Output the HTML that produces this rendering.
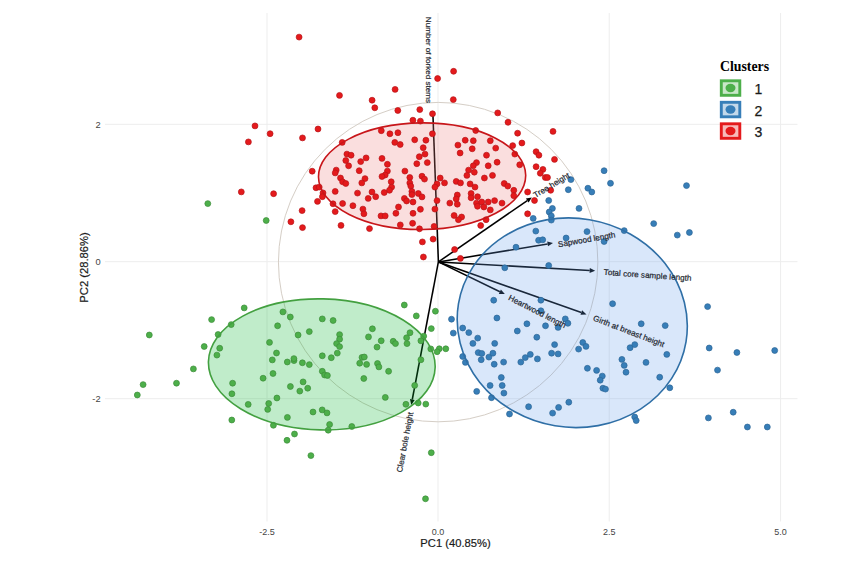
<!DOCTYPE html><html><head><meta charset="utf-8"><style>html,body{margin:0;padding:0;background:#fff;}svg{display:block;}text{font-family:"Liberation Sans",sans-serif;}</style></head><body>
<svg width="868" height="563" viewBox="0 0 868 563">
<rect width="868" height="563" fill="#fff"/>
<g stroke="#EDEDED" stroke-width="1"><line x1="267.0" y1="13" x2="267.0" y2="521.5"/><line x1="438.0" y1="13" x2="438.0" y2="521.5"/><line x1="609.2" y1="13" x2="609.2" y2="521.5"/><line x1="780.6" y1="13" x2="780.6" y2="521.5"/><line x1="105" y1="124.3" x2="797.5" y2="124.3"/><line x1="105" y1="261.7" x2="797.5" y2="261.7"/><line x1="105" y1="398.7" x2="797.5" y2="398.7"/></g>
<g fill="#444" font-size="9.3">
<text x="100.6" y="127.89999999999999" text-anchor="end">2</text>
<text x="100.6" y="265.3" text-anchor="end">0</text>
<text x="100.6" y="402.3" text-anchor="end">-2</text>
<text x="267.0" y="534.6" font-size="9" text-anchor="middle">-2.5</text>
<text x="438.0" y="534.6" font-size="9" text-anchor="middle">0.0</text>
<text x="609.2" y="534.6" font-size="9" text-anchor="middle">2.5</text>
<text x="780.6" y="534.6" font-size="9" text-anchor="middle">5.0</text>
</g>
<text x="455.5" y="547.2" font-size="11.2" text-anchor="middle" fill="#1a1a1a" stroke="#1a1a1a" stroke-width="0.2">PC1 (40.85%)</text>
<text transform="translate(87.6,267.5) rotate(-90)" font-size="11.2" text-anchor="middle" fill="#1a1a1a" stroke="#1a1a1a" stroke-width="0.2">PC2 (28.86%)</text>
<circle cx="438.15" cy="262.1" r="159.7" fill="none" stroke="#D5CEC6" stroke-width="1"/>
<g stroke="#000" stroke-width="1.55" fill="#000"><line x1="438.4" y1="261.9" x2="432.9" y2="114.0"/><line x1="438.4" y1="261.9" x2="527.3" y2="200.6"/><polygon stroke="none" points="531.8,197.5 528.6,202.6 525.9,198.6"/><line x1="438.4" y1="261.9" x2="547.6" y2="243.9"/><polygon stroke="none" points="553.0,243.0 548.0,246.3 547.2,241.5"/><line x1="438.4" y1="261.9" x2="589.7" y2="270.5"/><polygon stroke="none" points="595.2,270.8 589.6,272.9 589.8,268.1"/><line x1="438.4" y1="261.9" x2="499.9" y2="291.7"/><polygon stroke="none" points="504.8,294.1 498.8,293.9 500.9,289.5"/><line x1="438.4" y1="261.9" x2="581.3" y2="312.6"/><polygon stroke="none" points="586.5,314.4 580.5,314.8 582.1,310.3"/><line x1="438.4" y1="261.9" x2="412.3" y2="399.5"/><polygon stroke="none" points="411.3,404.9 410.0,399.0 414.7,399.9"/></g>
<ellipse cx="321.8" cy="364.4" rx="113.4" ry="65.5" transform="rotate(1.4 321.8 364.4)" fill="rgb(3,179,43)" fill-opacity="0.25"/><ellipse cx="572.25" cy="322.75" rx="115.35" ry="104.5" transform="rotate(9.5 572.25 322.75)" fill="rgb(103,159,235)" fill-opacity="0.25"/><ellipse cx="422.1" cy="176.2" rx="103.6" ry="53.3" transform="rotate(-0.46 422.1 176.2)" fill="rgb(235,123,123)" fill-opacity="0.25"/>
<g stroke-width="0.7"><circle cx="299.1" cy="37.1" r="2.95" fill="#E41A1C" stroke="#B81418"/><circle cx="255.0" cy="125.9" r="2.95" fill="#E41A1C" stroke="#B81418"/><circle cx="270.1" cy="133.7" r="2.95" fill="#E41A1C" stroke="#B81418"/><circle cx="248.4" cy="141.9" r="2.95" fill="#E41A1C" stroke="#B81418"/><circle cx="302.5" cy="137.9" r="2.95" fill="#E41A1C" stroke="#B81418"/><circle cx="318.0" cy="129.0" r="2.95" fill="#E41A1C" stroke="#B81418"/><circle cx="312.2" cy="171.2" r="2.95" fill="#E41A1C" stroke="#B81418"/><circle cx="453.6" cy="71.3" r="2.95" fill="#E41A1C" stroke="#B81418"/><circle cx="437.6" cy="78.5" r="2.95" fill="#E41A1C" stroke="#B81418"/><circle cx="339.5" cy="95.4" r="2.95" fill="#E41A1C" stroke="#B81418"/><circle cx="395.1" cy="89.4" r="2.95" fill="#E41A1C" stroke="#B81418"/><circle cx="372.1" cy="100.2" r="2.95" fill="#E41A1C" stroke="#B81418"/><circle cx="374.8" cy="107.8" r="2.95" fill="#E41A1C" stroke="#B81418"/><circle cx="453.3" cy="99.6" r="2.95" fill="#E41A1C" stroke="#B81418"/><circle cx="397.8" cy="110.5" r="2.95" fill="#E41A1C" stroke="#B81418"/><circle cx="419.8" cy="109.6" r="2.95" fill="#E41A1C" stroke="#B81418"/><circle cx="432.5" cy="113.8" r="2.95" fill="#E41A1C" stroke="#B81418"/><circle cx="497.7" cy="112.9" r="2.95" fill="#E41A1C" stroke="#B81418"/><circle cx="508.0" cy="122.3" r="2.95" fill="#E41A1C" stroke="#B81418"/><circle cx="412.9" cy="120.2" r="2.95" fill="#E41A1C" stroke="#B81418"/><circle cx="420.4" cy="121.1" r="2.95" fill="#E41A1C" stroke="#B81418"/><circle cx="553.0" cy="131.4" r="2.95" fill="#E41A1C" stroke="#B81418"/><circle cx="517.6" cy="133.2" r="2.95" fill="#E41A1C" stroke="#B81418"/><circle cx="475.7" cy="130.5" r="2.95" fill="#E41A1C" stroke="#B81418"/><circle cx="381.3" cy="130.7" r="2.95" fill="#E41A1C" stroke="#B81418"/><circle cx="389.9" cy="133.8" r="2.95" fill="#E41A1C" stroke="#B81418"/><circle cx="397.9" cy="132.7" r="2.95" fill="#E41A1C" stroke="#B81418"/><circle cx="432.4" cy="133.8" r="2.95" fill="#E41A1C" stroke="#B81418"/><circle cx="414.7" cy="139.8" r="2.95" fill="#E41A1C" stroke="#B81418"/><circle cx="425.9" cy="140.2" r="2.95" fill="#E41A1C" stroke="#B81418"/><circle cx="342.2" cy="142.4" r="2.95" fill="#E41A1C" stroke="#B81418"/><circle cx="394.8" cy="142.4" r="2.95" fill="#E41A1C" stroke="#B81418"/><circle cx="400.2" cy="144.5" r="2.95" fill="#E41A1C" stroke="#B81418"/><circle cx="423.2" cy="147.7" r="2.95" fill="#E41A1C" stroke="#B81418"/><circle cx="346.9" cy="154.1" r="2.95" fill="#E41A1C" stroke="#B81418"/><circle cx="351.1" cy="155.2" r="2.95" fill="#E41A1C" stroke="#B81418"/><circle cx="425.0" cy="154.1" r="2.95" fill="#E41A1C" stroke="#B81418"/><circle cx="419.3" cy="156.7" r="2.95" fill="#E41A1C" stroke="#B81418"/><circle cx="366.1" cy="157.9" r="2.95" fill="#E41A1C" stroke="#B81418"/><circle cx="382.0" cy="158.4" r="2.95" fill="#E41A1C" stroke="#B81418"/><circle cx="360.7" cy="161.6" r="2.95" fill="#E41A1C" stroke="#B81418"/><circle cx="345.8" cy="160.5" r="2.95" fill="#E41A1C" stroke="#B81418"/><circle cx="348.6" cy="165.8" r="2.95" fill="#E41A1C" stroke="#B81418"/><circle cx="387.4" cy="164.3" r="2.95" fill="#E41A1C" stroke="#B81418"/><circle cx="416.8" cy="163.7" r="2.95" fill="#E41A1C" stroke="#B81418"/><circle cx="427.3" cy="162.6" r="2.95" fill="#E41A1C" stroke="#B81418"/><circle cx="336.2" cy="170.1" r="2.95" fill="#E41A1C" stroke="#B81418"/><circle cx="335.2" cy="172.9" r="2.95" fill="#E41A1C" stroke="#B81418"/><circle cx="359.2" cy="170.7" r="2.95" fill="#E41A1C" stroke="#B81418"/><circle cx="387.4" cy="171.1" r="2.95" fill="#E41A1C" stroke="#B81418"/><circle cx="385.2" cy="175.0" r="2.95" fill="#E41A1C" stroke="#B81418"/><circle cx="382.0" cy="176.5" r="2.95" fill="#E41A1C" stroke="#B81418"/><circle cx="404.9" cy="171.1" r="2.95" fill="#E41A1C" stroke="#B81418"/><circle cx="409.8" cy="177.5" r="2.95" fill="#E41A1C" stroke="#B81418"/><circle cx="422.0" cy="176.2" r="2.95" fill="#E41A1C" stroke="#B81418"/><circle cx="424.5" cy="179.1" r="2.95" fill="#E41A1C" stroke="#B81418"/><circle cx="340.5" cy="178.0" r="2.95" fill="#E41A1C" stroke="#B81418"/><circle cx="365.0" cy="178.6" r="2.95" fill="#E41A1C" stroke="#B81418"/><circle cx="361.8" cy="182.9" r="2.95" fill="#E41A1C" stroke="#B81418"/><circle cx="342.6" cy="181.8" r="2.95" fill="#E41A1C" stroke="#B81418"/><circle cx="345.8" cy="183.5" r="2.95" fill="#E41A1C" stroke="#B81418"/><circle cx="391.2" cy="181.8" r="2.95" fill="#E41A1C" stroke="#B81418"/><circle cx="409.8" cy="182.9" r="2.95" fill="#E41A1C" stroke="#B81418"/><circle cx="410.8" cy="186.1" r="2.95" fill="#E41A1C" stroke="#B81418"/><circle cx="316.0" cy="187.8" r="2.95" fill="#E41A1C" stroke="#B81418"/><circle cx="319.2" cy="187.1" r="2.95" fill="#E41A1C" stroke="#B81418"/><circle cx="335.2" cy="191.4" r="2.95" fill="#E41A1C" stroke="#B81418"/><circle cx="357.5" cy="193.1" r="2.95" fill="#E41A1C" stroke="#B81418"/><circle cx="372.0" cy="192.0" r="2.95" fill="#E41A1C" stroke="#B81418"/><circle cx="391.6" cy="187.1" r="2.95" fill="#E41A1C" stroke="#B81418"/><circle cx="389.5" cy="190.3" r="2.95" fill="#E41A1C" stroke="#B81418"/><circle cx="384.2" cy="192.5" r="2.95" fill="#E41A1C" stroke="#B81418"/><circle cx="411.9" cy="191.4" r="2.95" fill="#E41A1C" stroke="#B81418"/><circle cx="411.9" cy="194.6" r="2.95" fill="#E41A1C" stroke="#B81418"/><circle cx="418.3" cy="193.5" r="2.95" fill="#E41A1C" stroke="#B81418"/><circle cx="422.0" cy="196.9" r="2.95" fill="#E41A1C" stroke="#B81418"/><circle cx="323.0" cy="192.9" r="2.95" fill="#E41A1C" stroke="#B81418"/><circle cx="322.4" cy="196.7" r="2.95" fill="#E41A1C" stroke="#B81418"/><circle cx="368.2" cy="198.4" r="2.95" fill="#E41A1C" stroke="#B81418"/><circle cx="375.7" cy="196.7" r="2.95" fill="#E41A1C" stroke="#B81418"/><circle cx="404.4" cy="198.4" r="2.95" fill="#E41A1C" stroke="#B81418"/><circle cx="406.6" cy="201.0" r="2.95" fill="#E41A1C" stroke="#B81418"/><circle cx="413.0" cy="202.0" r="2.95" fill="#E41A1C" stroke="#B81418"/><circle cx="317.5" cy="201.4" r="2.95" fill="#E41A1C" stroke="#B81418"/><circle cx="333.0" cy="203.8" r="2.95" fill="#E41A1C" stroke="#B81418"/><circle cx="342.6" cy="203.5" r="2.95" fill="#E41A1C" stroke="#B81418"/><circle cx="352.9" cy="205.7" r="2.95" fill="#E41A1C" stroke="#B81418"/><circle cx="362.9" cy="209.1" r="2.95" fill="#E41A1C" stroke="#B81418"/><circle cx="363.9" cy="213.8" r="2.95" fill="#E41A1C" stroke="#B81418"/><circle cx="398.5" cy="207.0" r="2.95" fill="#E41A1C" stroke="#B81418"/><circle cx="420.4" cy="209.3" r="2.95" fill="#E41A1C" stroke="#B81418"/><circle cx="302.1" cy="210.6" r="2.95" fill="#E41A1C" stroke="#B81418"/><circle cx="335.2" cy="211.6" r="2.95" fill="#E41A1C" stroke="#B81418"/><circle cx="381.0" cy="215.9" r="2.95" fill="#E41A1C" stroke="#B81418"/><circle cx="385.2" cy="215.9" r="2.95" fill="#E41A1C" stroke="#B81418"/><circle cx="395.9" cy="213.3" r="2.95" fill="#E41A1C" stroke="#B81418"/><circle cx="413.0" cy="213.3" r="2.95" fill="#E41A1C" stroke="#B81418"/><circle cx="400.3" cy="224.9" r="2.95" fill="#E41A1C" stroke="#B81418"/><circle cx="412.6" cy="223.3" r="2.95" fill="#E41A1C" stroke="#B81418"/><circle cx="419.5" cy="228.8" r="2.95" fill="#E41A1C" stroke="#B81418"/><circle cx="341.0" cy="225.4" r="2.95" fill="#E41A1C" stroke="#B81418"/><circle cx="369.5" cy="228.6" r="2.95" fill="#E41A1C" stroke="#B81418"/><circle cx="302.5" cy="227.6" r="2.95" fill="#E41A1C" stroke="#B81418"/><circle cx="521.9" cy="143.0" r="2.95" fill="#E41A1C" stroke="#B81418"/><circle cx="512.7" cy="145.6" r="2.95" fill="#E41A1C" stroke="#B81418"/><circle cx="465.2" cy="140.2" r="2.95" fill="#E41A1C" stroke="#B81418"/><circle cx="473.3" cy="140.7" r="2.95" fill="#E41A1C" stroke="#B81418"/><circle cx="490.3" cy="140.7" r="2.95" fill="#E41A1C" stroke="#B81418"/><circle cx="457.9" cy="145.1" r="2.95" fill="#E41A1C" stroke="#B81418"/><circle cx="472.2" cy="148.8" r="2.95" fill="#E41A1C" stroke="#B81418"/><circle cx="495.7" cy="148.1" r="2.95" fill="#E41A1C" stroke="#B81418"/><circle cx="460.1" cy="153.0" r="2.95" fill="#E41A1C" stroke="#B81418"/><circle cx="486.5" cy="155.2" r="2.95" fill="#E41A1C" stroke="#B81418"/><circle cx="514.8" cy="154.1" r="2.95" fill="#E41A1C" stroke="#B81418"/><circle cx="536.1" cy="151.7" r="2.95" fill="#E41A1C" stroke="#B81418"/><circle cx="538.9" cy="155.2" r="2.95" fill="#E41A1C" stroke="#B81418"/><circle cx="476.5" cy="162.6" r="2.95" fill="#E41A1C" stroke="#B81418"/><circle cx="473.3" cy="165.8" r="2.95" fill="#E41A1C" stroke="#B81418"/><circle cx="497.1" cy="162.2" r="2.95" fill="#E41A1C" stroke="#B81418"/><circle cx="488.2" cy="165.8" r="2.95" fill="#E41A1C" stroke="#B81418"/><circle cx="519.7" cy="164.8" r="2.95" fill="#E41A1C" stroke="#B81418"/><circle cx="536.1" cy="166.7" r="2.95" fill="#E41A1C" stroke="#B81418"/><circle cx="542.9" cy="169.4" r="2.95" fill="#E41A1C" stroke="#B81418"/><circle cx="540.3" cy="173.3" r="2.95" fill="#E41A1C" stroke="#B81418"/><circle cx="545.3" cy="177.5" r="2.95" fill="#E41A1C" stroke="#B81418"/><circle cx="468.6" cy="170.1" r="2.95" fill="#E41A1C" stroke="#B81418"/><circle cx="474.3" cy="172.2" r="2.95" fill="#E41A1C" stroke="#B81418"/><circle cx="466.9" cy="175.4" r="2.95" fill="#E41A1C" stroke="#B81418"/><circle cx="492.5" cy="175.4" r="2.95" fill="#E41A1C" stroke="#B81418"/><circle cx="484.4" cy="178.0" r="2.95" fill="#E41A1C" stroke="#B81418"/><circle cx="440.2" cy="178.0" r="2.95" fill="#E41A1C" stroke="#B81418"/><circle cx="444.5" cy="182.9" r="2.95" fill="#E41A1C" stroke="#B81418"/><circle cx="456.2" cy="181.4" r="2.95" fill="#E41A1C" stroke="#B81418"/><circle cx="460.5" cy="182.9" r="2.95" fill="#E41A1C" stroke="#B81418"/><circle cx="437.0" cy="183.9" r="2.95" fill="#E41A1C" stroke="#B81418"/><circle cx="434.9" cy="187.1" r="2.95" fill="#E41A1C" stroke="#B81418"/><circle cx="470.1" cy="183.9" r="2.95" fill="#E41A1C" stroke="#B81418"/><circle cx="475.0" cy="187.1" r="2.95" fill="#E41A1C" stroke="#B81418"/><circle cx="504.2" cy="183.5" r="2.95" fill="#E41A1C" stroke="#B81418"/><circle cx="507.8" cy="186.1" r="2.95" fill="#E41A1C" stroke="#B81418"/><circle cx="513.8" cy="190.3" r="2.95" fill="#E41A1C" stroke="#B81418"/><circle cx="513.8" cy="195.7" r="2.95" fill="#E41A1C" stroke="#B81418"/><circle cx="527.6" cy="192.0" r="2.95" fill="#E41A1C" stroke="#B81418"/><circle cx="471.1" cy="193.5" r="2.95" fill="#E41A1C" stroke="#B81418"/><circle cx="477.5" cy="196.7" r="2.95" fill="#E41A1C" stroke="#B81418"/><circle cx="457.3" cy="195.0" r="2.95" fill="#E41A1C" stroke="#B81418"/><circle cx="456.2" cy="198.9" r="2.95" fill="#E41A1C" stroke="#B81418"/><circle cx="437.0" cy="200.6" r="2.95" fill="#E41A1C" stroke="#B81418"/><circle cx="449.8" cy="203.1" r="2.95" fill="#E41A1C" stroke="#B81418"/><circle cx="457.3" cy="204.2" r="2.95" fill="#E41A1C" stroke="#B81418"/><circle cx="471.1" cy="197.8" r="2.95" fill="#E41A1C" stroke="#B81418"/><circle cx="476.5" cy="203.1" r="2.95" fill="#E41A1C" stroke="#B81418"/><circle cx="481.8" cy="202.0" r="2.95" fill="#E41A1C" stroke="#B81418"/><circle cx="488.2" cy="202.0" r="2.95" fill="#E41A1C" stroke="#B81418"/><circle cx="494.6" cy="200.6" r="2.95" fill="#E41A1C" stroke="#B81418"/><circle cx="502.0" cy="203.1" r="2.95" fill="#E41A1C" stroke="#B81418"/><circle cx="483.9" cy="207.0" r="2.95" fill="#E41A1C" stroke="#B81418"/><circle cx="477.5" cy="206.3" r="2.95" fill="#E41A1C" stroke="#B81418"/><circle cx="490.3" cy="209.9" r="2.95" fill="#E41A1C" stroke="#B81418"/><circle cx="534.5" cy="200.5" r="2.95" fill="#E41A1C" stroke="#B81418"/><circle cx="434.9" cy="209.1" r="2.95" fill="#E41A1C" stroke="#B81418"/><circle cx="454.1" cy="215.5" r="2.95" fill="#E41A1C" stroke="#B81418"/><circle cx="461.6" cy="217.0" r="2.95" fill="#E41A1C" stroke="#B81418"/><circle cx="458.4" cy="219.7" r="2.95" fill="#E41A1C" stroke="#B81418"/><circle cx="486.1" cy="219.7" r="2.95" fill="#E41A1C" stroke="#B81418"/><circle cx="480.7" cy="225.5" r="2.95" fill="#E41A1C" stroke="#B81418"/><circle cx="527.6" cy="213.8" r="2.95" fill="#E41A1C" stroke="#B81418"/><circle cx="434.1" cy="226.4" r="2.95" fill="#E41A1C" stroke="#B81418"/><circle cx="433.1" cy="239.1" r="2.95" fill="#E41A1C" stroke="#B81418"/><circle cx="554.5" cy="159.4" r="2.95" fill="#E41A1C" stroke="#B81418"/><circle cx="547.5" cy="177.5" r="2.95" fill="#E41A1C" stroke="#B81418"/><circle cx="550.7" cy="190.3" r="2.95" fill="#E41A1C" stroke="#B81418"/><circle cx="604.1" cy="170.7" r="2.95" fill="#377EB8" stroke="#2C6596"/><circle cx="610.5" cy="183.3" r="2.95" fill="#377EB8" stroke="#2C6596"/><circle cx="570.9" cy="179.6" r="2.95" fill="#377EB8" stroke="#2C6596"/><circle cx="568.3" cy="189.7" r="2.95" fill="#377EB8" stroke="#2C6596"/><circle cx="587.9" cy="188.2" r="2.95" fill="#377EB8" stroke="#2C6596"/><circle cx="591.8" cy="192.0" r="2.95" fill="#377EB8" stroke="#2C6596"/><circle cx="686.5" cy="185.6" r="2.95" fill="#377EB8" stroke="#2C6596"/><circle cx="548.7" cy="200.5" r="2.95" fill="#377EB8" stroke="#2C6596"/><circle cx="552.4" cy="208.4" r="2.95" fill="#377EB8" stroke="#2C6596"/><circle cx="549.2" cy="212.0" r="2.95" fill="#377EB8" stroke="#2C6596"/><circle cx="579.0" cy="208.4" r="2.95" fill="#377EB8" stroke="#2C6596"/><circle cx="551.3" cy="215.9" r="2.95" fill="#377EB8" stroke="#2C6596"/><circle cx="551.3" cy="220.1" r="2.95" fill="#377EB8" stroke="#2C6596"/><circle cx="533.2" cy="218.4" r="2.95" fill="#377EB8" stroke="#2C6596"/><circle cx="653.7" cy="223.6" r="2.95" fill="#377EB8" stroke="#2C6596"/><circle cx="535.8" cy="231.1" r="2.95" fill="#377EB8" stroke="#2C6596"/><circle cx="587.0" cy="231.6" r="2.95" fill="#377EB8" stroke="#2C6596"/><circle cx="624.2" cy="230.6" r="2.95" fill="#377EB8" stroke="#2C6596"/><circle cx="677.3" cy="235.1" r="2.95" fill="#377EB8" stroke="#2C6596"/><circle cx="689.4" cy="232.5" r="2.95" fill="#377EB8" stroke="#2C6596"/><circle cx="538.6" cy="240.3" r="2.95" fill="#377EB8" stroke="#2C6596"/><circle cx="542.7" cy="239.8" r="2.95" fill="#377EB8" stroke="#2C6596"/><circle cx="566.1" cy="238.0" r="2.95" fill="#377EB8" stroke="#2C6596"/><circle cx="516.0" cy="247.2" r="2.95" fill="#377EB8" stroke="#2C6596"/><circle cx="504.8" cy="267.8" r="2.95" fill="#377EB8" stroke="#2C6596"/><circle cx="548.7" cy="265.5" r="2.95" fill="#377EB8" stroke="#2C6596"/><circle cx="493.7" cy="300.2" r="2.95" fill="#377EB8" stroke="#2C6596"/><circle cx="540.9" cy="300.2" r="2.95" fill="#377EB8" stroke="#2C6596"/><circle cx="540.9" cy="310.8" r="2.95" fill="#377EB8" stroke="#2C6596"/><circle cx="451.5" cy="319.2" r="2.95" fill="#377EB8" stroke="#2C6596"/><circle cx="496.9" cy="318.0" r="2.95" fill="#377EB8" stroke="#2C6596"/><circle cx="526.9" cy="323.8" r="2.95" fill="#377EB8" stroke="#2C6596"/><circle cx="545.5" cy="325.8" r="2.95" fill="#377EB8" stroke="#2C6596"/><circle cx="565.3" cy="318.9" r="2.95" fill="#377EB8" stroke="#2C6596"/><circle cx="567.9" cy="323.3" r="2.95" fill="#377EB8" stroke="#2C6596"/><circle cx="462.7" cy="328.0" r="2.95" fill="#377EB8" stroke="#2C6596"/><circle cx="558.1" cy="327.4" r="2.95" fill="#377EB8" stroke="#2C6596"/><circle cx="454.6" cy="249.5" r="2.95" fill="#E41A1C" stroke="#B81418"/><circle cx="460.4" cy="258.4" r="2.95" fill="#E41A1C" stroke="#B81418"/><circle cx="604.1" cy="241.5" r="2.95" fill="#377EB8" stroke="#2C6596"/><circle cx="612.6" cy="303.7" r="2.95" fill="#377EB8" stroke="#2C6596"/><circle cx="707.6" cy="306.6" r="2.95" fill="#377EB8" stroke="#2C6596"/><circle cx="641.2" cy="323.8" r="2.95" fill="#377EB8" stroke="#2C6596"/><circle cx="665.2" cy="325.6" r="2.95" fill="#377EB8" stroke="#2C6596"/><circle cx="453.3" cy="333.1" r="2.95" fill="#377EB8" stroke="#2C6596"/><circle cx="468.8" cy="332.6" r="2.95" fill="#377EB8" stroke="#2C6596"/><circle cx="477.7" cy="338.1" r="2.95" fill="#377EB8" stroke="#2C6596"/><circle cx="472.9" cy="343.4" r="2.95" fill="#377EB8" stroke="#2C6596"/><circle cx="494.7" cy="343.4" r="2.95" fill="#377EB8" stroke="#2C6596"/><circle cx="517.3" cy="331.0" r="2.95" fill="#377EB8" stroke="#2C6596"/><circle cx="536.8" cy="337.2" r="2.95" fill="#377EB8" stroke="#2C6596"/><circle cx="554.6" cy="344.6" r="2.95" fill="#377EB8" stroke="#2C6596"/><circle cx="551.6" cy="353.2" r="2.95" fill="#377EB8" stroke="#2C6596"/><circle cx="558.1" cy="353.9" r="2.95" fill="#377EB8" stroke="#2C6596"/><circle cx="578.6" cy="349.1" r="2.95" fill="#377EB8" stroke="#2C6596"/><circle cx="478.2" cy="352.6" r="2.95" fill="#377EB8" stroke="#2C6596"/><circle cx="481.8" cy="353.5" r="2.95" fill="#377EB8" stroke="#2C6596"/><circle cx="481.2" cy="359.7" r="2.95" fill="#377EB8" stroke="#2C6596"/><circle cx="488.9" cy="357.1" r="2.95" fill="#377EB8" stroke="#2C6596"/><circle cx="492.9" cy="353.2" r="2.95" fill="#377EB8" stroke="#2C6596"/><circle cx="494.2" cy="364.2" r="2.95" fill="#377EB8" stroke="#2C6596"/><circle cx="503.6" cy="362.1" r="2.95" fill="#377EB8" stroke="#2C6596"/><circle cx="520.8" cy="362.1" r="2.95" fill="#377EB8" stroke="#2C6596"/><circle cx="525.3" cy="357.6" r="2.95" fill="#377EB8" stroke="#2C6596"/><circle cx="530.3" cy="354.4" r="2.95" fill="#377EB8" stroke="#2C6596"/><circle cx="537.4" cy="358.9" r="2.95" fill="#377EB8" stroke="#2C6596"/><circle cx="462.7" cy="356.5" r="2.95" fill="#377EB8" stroke="#2C6596"/><circle cx="465.4" cy="362.4" r="2.95" fill="#377EB8" stroke="#2C6596"/><circle cx="501.3" cy="377.5" r="2.95" fill="#377EB8" stroke="#2C6596"/><circle cx="502.2" cy="385.5" r="2.95" fill="#377EB8" stroke="#2C6596"/><circle cx="490.1" cy="385.5" r="2.95" fill="#377EB8" stroke="#2C6596"/><circle cx="503.9" cy="393.1" r="2.95" fill="#377EB8" stroke="#2C6596"/><circle cx="476.7" cy="391.4" r="2.95" fill="#377EB8" stroke="#2C6596"/><circle cx="491.5" cy="397.7" r="2.95" fill="#377EB8" stroke="#2C6596"/><circle cx="528.6" cy="406.7" r="2.95" fill="#377EB8" stroke="#2C6596"/><circle cx="558.6" cy="407.4" r="2.95" fill="#377EB8" stroke="#2C6596"/><circle cx="568.8" cy="402.2" r="2.95" fill="#377EB8" stroke="#2C6596"/><circle cx="439.3" cy="348.8" r="2.95" fill="#4DAF4A" stroke="#3C8C3A"/><circle cx="445.8" cy="348.8" r="2.95" fill="#4DAF4A" stroke="#3C8C3A"/><circle cx="582.8" cy="342.5" r="2.95" fill="#377EB8" stroke="#2C6596"/><circle cx="586.0" cy="346.4" r="2.95" fill="#377EB8" stroke="#2C6596"/><circle cx="630.1" cy="347.7" r="2.95" fill="#377EB8" stroke="#2C6596"/><circle cx="634.8" cy="344.6" r="2.95" fill="#377EB8" stroke="#2C6596"/><circle cx="666.8" cy="354.4" r="2.95" fill="#377EB8" stroke="#2C6596"/><circle cx="646.0" cy="362.4" r="2.95" fill="#377EB8" stroke="#2C6596"/><circle cx="621.9" cy="359.4" r="2.95" fill="#377EB8" stroke="#2C6596"/><circle cx="624.2" cy="365.4" r="2.95" fill="#377EB8" stroke="#2C6596"/><circle cx="626.0" cy="372.2" r="2.95" fill="#377EB8" stroke="#2C6596"/><circle cx="587.4" cy="368.3" r="2.95" fill="#377EB8" stroke="#2C6596"/><circle cx="596.6" cy="370.4" r="2.95" fill="#377EB8" stroke="#2C6596"/><circle cx="602.3" cy="376.1" r="2.95" fill="#377EB8" stroke="#2C6596"/><circle cx="600.2" cy="380.2" r="2.95" fill="#377EB8" stroke="#2C6596"/><circle cx="602.9" cy="388.2" r="2.95" fill="#377EB8" stroke="#2C6596"/><circle cx="605.5" cy="389.1" r="2.95" fill="#377EB8" stroke="#2C6596"/><circle cx="659.7" cy="377.2" r="2.95" fill="#377EB8" stroke="#2C6596"/><circle cx="669.8" cy="387.8" r="2.95" fill="#377EB8" stroke="#2C6596"/><circle cx="709.2" cy="348.0" r="2.95" fill="#377EB8" stroke="#2C6596"/><circle cx="736.9" cy="352.5" r="2.95" fill="#377EB8" stroke="#2C6596"/><circle cx="774.7" cy="350.5" r="2.95" fill="#377EB8" stroke="#2C6596"/><circle cx="717.5" cy="370.1" r="2.95" fill="#377EB8" stroke="#2C6596"/><circle cx="708.4" cy="417.9" r="2.95" fill="#377EB8" stroke="#2C6596"/><circle cx="733.2" cy="412.2" r="2.95" fill="#377EB8" stroke="#2C6596"/><circle cx="747.4" cy="427.0" r="2.95" fill="#377EB8" stroke="#2C6596"/><circle cx="767.3" cy="427.0" r="2.95" fill="#377EB8" stroke="#2C6596"/><circle cx="509.5" cy="414.0" r="2.95" fill="#377EB8" stroke="#2C6596"/><circle cx="552.6" cy="413.1" r="2.95" fill="#377EB8" stroke="#2C6596"/><circle cx="634.7" cy="417.0" r="2.95" fill="#377EB8" stroke="#2C6596"/><circle cx="636.2" cy="420.6" r="2.95" fill="#377EB8" stroke="#2C6596"/><circle cx="241.3" cy="191.9" r="2.95" fill="#E41A1C" stroke="#B81418"/><circle cx="273.6" cy="193.7" r="2.95" fill="#E41A1C" stroke="#B81418"/><circle cx="290.9" cy="221.8" r="2.95" fill="#E41A1C" stroke="#B81418"/><circle cx="207.8" cy="203.6" r="2.95" fill="#4DAF4A" stroke="#3C8C3A"/><circle cx="266.2" cy="220.5" r="2.95" fill="#4DAF4A" stroke="#3C8C3A"/><circle cx="244.2" cy="307.9" r="2.95" fill="#4DAF4A" stroke="#3C8C3A"/><circle cx="211.6" cy="319.6" r="2.95" fill="#4DAF4A" stroke="#3C8C3A"/><circle cx="282.9" cy="311.9" r="2.95" fill="#4DAF4A" stroke="#3C8C3A"/><circle cx="290.3" cy="317.0" r="2.95" fill="#4DAF4A" stroke="#3C8C3A"/><circle cx="422.4" cy="241.9" r="2.95" fill="#E41A1C" stroke="#B81418"/><circle cx="423.4" cy="257.0" r="2.95" fill="#E41A1C" stroke="#B81418"/><circle cx="404.3" cy="305.0" r="2.95" fill="#4DAF4A" stroke="#3C8C3A"/><circle cx="231.2" cy="324.6" r="2.95" fill="#4DAF4A" stroke="#3C8C3A"/><circle cx="277.6" cy="325.8" r="2.95" fill="#4DAF4A" stroke="#3C8C3A"/><circle cx="149.3" cy="335.0" r="2.95" fill="#4DAF4A" stroke="#3C8C3A"/><circle cx="218.1" cy="334.5" r="2.95" fill="#4DAF4A" stroke="#3C8C3A"/><circle cx="298.1" cy="335.0" r="2.95" fill="#4DAF4A" stroke="#3C8C3A"/><circle cx="204.2" cy="346.5" r="2.95" fill="#4DAF4A" stroke="#3C8C3A"/><circle cx="219.7" cy="348.2" r="2.95" fill="#4DAF4A" stroke="#3C8C3A"/><circle cx="216.9" cy="355.1" r="2.95" fill="#4DAF4A" stroke="#3C8C3A"/><circle cx="269.5" cy="342.4" r="2.95" fill="#4DAF4A" stroke="#3C8C3A"/><circle cx="276.5" cy="353.0" r="2.95" fill="#4DAF4A" stroke="#3C8C3A"/><circle cx="272.3" cy="359.9" r="2.95" fill="#4DAF4A" stroke="#3C8C3A"/><circle cx="287.3" cy="362.0" r="2.95" fill="#4DAF4A" stroke="#3C8C3A"/><circle cx="294.0" cy="360.6" r="2.95" fill="#4DAF4A" stroke="#3C8C3A"/><circle cx="193.4" cy="368.9" r="2.95" fill="#4DAF4A" stroke="#3C8C3A"/><circle cx="273.0" cy="373.5" r="2.95" fill="#4DAF4A" stroke="#3C8C3A"/><circle cx="263.1" cy="378.2" r="2.95" fill="#4DAF4A" stroke="#3C8C3A"/><circle cx="143.1" cy="384.6" r="2.95" fill="#4DAF4A" stroke="#3C8C3A"/><circle cx="176.5" cy="383.2" r="2.95" fill="#4DAF4A" stroke="#3C8C3A"/><circle cx="232.6" cy="383.2" r="2.95" fill="#4DAF4A" stroke="#3C8C3A"/><circle cx="137.3" cy="395.0" r="2.95" fill="#4DAF4A" stroke="#3C8C3A"/><circle cx="231.9" cy="393.8" r="2.95" fill="#4DAF4A" stroke="#3C8C3A"/><circle cx="290.4" cy="386.5" r="2.95" fill="#4DAF4A" stroke="#3C8C3A"/><circle cx="299.8" cy="391.1" r="2.95" fill="#4DAF4A" stroke="#3C8C3A"/><circle cx="276.9" cy="398.0" r="2.95" fill="#4DAF4A" stroke="#3C8C3A"/><circle cx="248.2" cy="404.4" r="2.95" fill="#4DAF4A" stroke="#3C8C3A"/><circle cx="268.7" cy="403.5" r="2.95" fill="#4DAF4A" stroke="#3C8C3A"/><circle cx="267.7" cy="409.4" r="2.95" fill="#4DAF4A" stroke="#3C8C3A"/><circle cx="287.4" cy="417.4" r="2.95" fill="#4DAF4A" stroke="#3C8C3A"/><circle cx="231.8" cy="420.0" r="2.95" fill="#4DAF4A" stroke="#3C8C3A"/><circle cx="435.4" cy="311.2" r="2.95" fill="#4DAF4A" stroke="#3C8C3A"/><circle cx="416.3" cy="315.9" r="2.95" fill="#4DAF4A" stroke="#3C8C3A"/><circle cx="322.3" cy="318.9" r="2.95" fill="#4DAF4A" stroke="#3C8C3A"/><circle cx="333.1" cy="320.5" r="2.95" fill="#4DAF4A" stroke="#3C8C3A"/><circle cx="309.3" cy="331.6" r="2.95" fill="#4DAF4A" stroke="#3C8C3A"/><circle cx="372.4" cy="328.8" r="2.95" fill="#4DAF4A" stroke="#3C8C3A"/><circle cx="368.5" cy="336.9" r="2.95" fill="#4DAF4A" stroke="#3C8C3A"/><circle cx="431.3" cy="328.6" r="2.95" fill="#4DAF4A" stroke="#3C8C3A"/><circle cx="410.0" cy="332.7" r="2.95" fill="#4DAF4A" stroke="#3C8C3A"/><circle cx="406.6" cy="337.8" r="2.95" fill="#4DAF4A" stroke="#3C8C3A"/><circle cx="407.0" cy="343.6" r="2.95" fill="#4DAF4A" stroke="#3C8C3A"/><circle cx="423.7" cy="336.2" r="2.95" fill="#4DAF4A" stroke="#3C8C3A"/><circle cx="420.9" cy="340.8" r="2.95" fill="#4DAF4A" stroke="#3C8C3A"/><circle cx="381.2" cy="340.8" r="2.95" fill="#4DAF4A" stroke="#3C8C3A"/><circle cx="377.0" cy="347.1" r="2.95" fill="#4DAF4A" stroke="#3C8C3A"/><circle cx="393.2" cy="341.3" r="2.95" fill="#4DAF4A" stroke="#3C8C3A"/><circle cx="395.5" cy="343.6" r="2.95" fill="#4DAF4A" stroke="#3C8C3A"/><circle cx="339.6" cy="334.6" r="2.95" fill="#4DAF4A" stroke="#3C8C3A"/><circle cx="339.6" cy="339.2" r="2.95" fill="#4DAF4A" stroke="#3C8C3A"/><circle cx="336.6" cy="343.6" r="2.95" fill="#4DAF4A" stroke="#3C8C3A"/><circle cx="339.6" cy="346.6" r="2.95" fill="#4DAF4A" stroke="#3C8C3A"/><circle cx="337.3" cy="353.1" r="2.95" fill="#4DAF4A" stroke="#3C8C3A"/><circle cx="331.3" cy="357.7" r="2.95" fill="#4DAF4A" stroke="#3C8C3A"/><circle cx="322.3" cy="355.8" r="2.95" fill="#4DAF4A" stroke="#3C8C3A"/><circle cx="430.8" cy="348.9" r="2.95" fill="#4DAF4A" stroke="#3C8C3A"/><circle cx="437.1" cy="351.7" r="2.95" fill="#4DAF4A" stroke="#3C8C3A"/><circle cx="420.9" cy="359.8" r="2.95" fill="#4DAF4A" stroke="#3C8C3A"/><circle cx="293.9" cy="358.6" r="2.95" fill="#4DAF4A" stroke="#3C8C3A"/><circle cx="302.4" cy="362.8" r="2.95" fill="#4DAF4A" stroke="#3C8C3A"/><circle cx="309.3" cy="364.6" r="2.95" fill="#4DAF4A" stroke="#3C8C3A"/><circle cx="362.0" cy="357.4" r="2.95" fill="#4DAF4A" stroke="#3C8C3A"/><circle cx="364.3" cy="357.0" r="2.95" fill="#4DAF4A" stroke="#3C8C3A"/><circle cx="359.7" cy="363.2" r="2.95" fill="#4DAF4A" stroke="#3C8C3A"/><circle cx="366.6" cy="364.4" r="2.95" fill="#4DAF4A" stroke="#3C8C3A"/><circle cx="377.5" cy="363.5" r="2.95" fill="#4DAF4A" stroke="#3C8C3A"/><circle cx="378.9" cy="366.9" r="2.95" fill="#4DAF4A" stroke="#3C8C3A"/><circle cx="388.6" cy="371.3" r="2.95" fill="#4DAF4A" stroke="#3C8C3A"/><circle cx="322.3" cy="371.3" r="2.95" fill="#4DAF4A" stroke="#3C8C3A"/><circle cx="324.6" cy="375.0" r="2.95" fill="#4DAF4A" stroke="#3C8C3A"/><circle cx="327.4" cy="375.5" r="2.95" fill="#4DAF4A" stroke="#3C8C3A"/><circle cx="363.8" cy="378.5" r="2.95" fill="#4DAF4A" stroke="#3C8C3A"/><circle cx="303.1" cy="381.9" r="2.95" fill="#4DAF4A" stroke="#3C8C3A"/><circle cx="307.7" cy="388.2" r="2.95" fill="#4DAF4A" stroke="#3C8C3A"/><circle cx="414.7" cy="385.4" r="2.95" fill="#4DAF4A" stroke="#3C8C3A"/><circle cx="385.3" cy="397.4" r="2.95" fill="#4DAF4A" stroke="#3C8C3A"/><circle cx="405.9" cy="404.3" r="2.95" fill="#4DAF4A" stroke="#3C8C3A"/><circle cx="418.2" cy="403.0" r="2.95" fill="#4DAF4A" stroke="#3C8C3A"/><circle cx="425.8" cy="404.1" r="2.95" fill="#4DAF4A" stroke="#3C8C3A"/><circle cx="313.0" cy="412.0" r="2.95" fill="#4DAF4A" stroke="#3C8C3A"/><circle cx="322.2" cy="409.9" r="2.95" fill="#4DAF4A" stroke="#3C8C3A"/><circle cx="327.0" cy="412.9" r="2.95" fill="#4DAF4A" stroke="#3C8C3A"/><circle cx="273.4" cy="425.3" r="2.95" fill="#4DAF4A" stroke="#3C8C3A"/><circle cx="329.6" cy="424.5" r="2.95" fill="#4DAF4A" stroke="#3C8C3A"/><circle cx="328.2" cy="430.2" r="2.95" fill="#4DAF4A" stroke="#3C8C3A"/><circle cx="351.8" cy="426.5" r="2.95" fill="#4DAF4A" stroke="#3C8C3A"/><circle cx="294.5" cy="434.0" r="2.95" fill="#4DAF4A" stroke="#3C8C3A"/><circle cx="287.0" cy="440.3" r="2.95" fill="#4DAF4A" stroke="#3C8C3A"/><circle cx="310.9" cy="455.6" r="2.95" fill="#4DAF4A" stroke="#3C8C3A"/><circle cx="431.3" cy="452.7" r="2.95" fill="#4DAF4A" stroke="#3C8C3A"/><circle cx="425.5" cy="498.8" r="2.95" fill="#4DAF4A" stroke="#3C8C3A"/></g>
<ellipse cx="321.8" cy="364.4" rx="113.4" ry="65.5" transform="rotate(1.4 321.8 364.4)" fill="none" stroke="#43A040" stroke-width="1.6"/><ellipse cx="572.25" cy="322.75" rx="115.35" ry="104.5" transform="rotate(9.5 572.25 322.75)" fill="none" stroke="#2F6FA6" stroke-width="1.6"/><ellipse cx="422.1" cy="176.2" rx="103.6" ry="53.3" transform="rotate(-0.46 422.1 176.2)" fill="none" stroke="#C8161A" stroke-width="1.6"/>
<g font-size="8.1" fill="#22262e" stroke="#22262e" stroke-width="0.2"><text transform="translate(426.3,16.8) rotate(90)">Number of forked stems</text><text transform="translate(535.6,198.0) rotate(-31)">Tree height</text><text transform="translate(558.6,247.3) rotate(-10)">Sapwood length</text><text transform="translate(603.6,274.8) rotate(4)">Total core sample length</text><text transform="translate(507.8,299.5) rotate(27)">Heartwood length</text><text transform="translate(592.6,320.3) rotate(21)">Girth at breast height</text><text transform="translate(402.0,472.8) rotate(-79.3)">Clear bole height</text></g>
<text x="720" y="71" font-family="Liberation Serif" font-weight="bold" font-size="13.8" fill="#000" style="font-family:'Liberation Serif',serif">Clusters</text>
<rect x="721.3" y="80.8" width="18.5" height="14.5" fill="#4DAF4A" fill-opacity="0.3" stroke="#4DAF4A" stroke-width="2.9"/>
<ellipse cx="730.5" cy="88.0" rx="5" ry="4.2" fill="#4DAF4A"/>
<text x="754.5" y="94.0" font-size="14" fill="#1a1a1a" stroke="#1a1a1a" stroke-width="0.25">1</text>
<rect x="721.3" y="102.3" width="18.5" height="14.5" fill="#377EB8" fill-opacity="0.3" stroke="#377EB8" stroke-width="2.9"/>
<ellipse cx="730.5" cy="109.5" rx="5" ry="4.2" fill="#377EB8"/>
<text x="754.5" y="115.5" font-size="14" fill="#1a1a1a" stroke="#1a1a1a" stroke-width="0.25">2</text>
<rect x="721.3" y="123.8" width="18.5" height="14.5" fill="#E41A1C" fill-opacity="0.3" stroke="#E41A1C" stroke-width="2.9"/>
<ellipse cx="730.5" cy="131.0" rx="5" ry="4.2" fill="#E41A1C"/>
<text x="754.5" y="137.0" font-size="14" fill="#1a1a1a" stroke="#1a1a1a" stroke-width="0.25">3</text>
</svg></body></html>
